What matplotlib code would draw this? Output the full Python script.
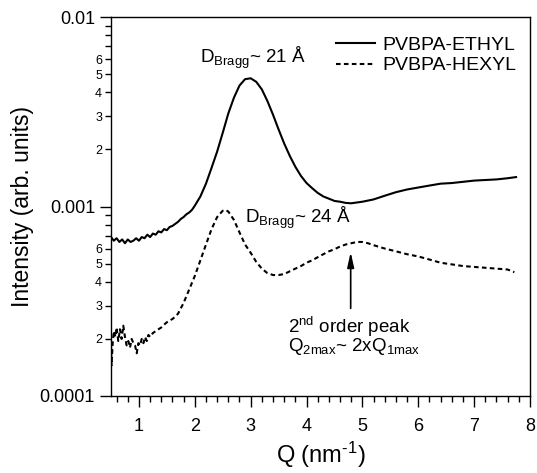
import numpy as np
import matplotlib
matplotlib.use("Agg")
import matplotlib.pyplot as plt
from matplotlib.ticker import FixedLocator, FuncFormatter

plt.rcParams["font.family"] = ["Liberation Sans", "DejaVu Sans"]
plt.rcParams["mathtext.fontset"] = "custom"
plt.rcParams["mathtext.rm"] = "Liberation Sans"
plt.rcParams["mathtext.it"] = "Liberation Sans:italic"
plt.rcParams["mathtext.default"] = "regular"

# PVBPA-ETHYL (Q in nm^-1, intensity in 1e-4 arb. units)
q_ethyl = [0.5, 0.55, 0.6, 0.65, 0.7, 0.75, 0.8, 0.85, 0.9, 0.95, 1.0, 1.05, 1.1, 1.15,
           1.2, 1.25, 1.3, 1.35, 1.4, 1.45, 1.5, 1.55, 1.6, 1.65, 1.7, 1.75, 1.8, 1.85,
           1.9, 1.95, 2.0, 2.1, 2.2, 2.3, 2.4, 2.5, 2.6, 2.7, 2.8, 2.9, 3.0, 3.1, 3.2,
           3.3, 3.4, 3.5, 3.6, 3.7, 3.8, 3.9, 4.0, 4.1, 4.2, 4.3, 4.4, 4.5, 4.6, 4.7,
           4.8, 4.9, 5.0, 5.2, 5.4, 5.6, 5.8, 6.0, 6.2, 6.4, 6.6, 6.8, 7.0, 7.2, 7.4,
           7.6, 7.75]
i_ethyl = [6.9, 6.6, 6.8, 6.5, 6.7, 6.4, 6.7, 6.5, 6.6, 6.8, 6.6, 6.9, 6.8, 7.1,
           6.9, 7.2, 7.1, 7.4, 7.3, 7.6, 7.5, 7.8, 7.9, 8.1, 8.3, 8.6, 8.8, 9.1,
           9.3, 9.6, 10.1, 11.3, 13.2, 16.0, 19.5, 24.5, 31.0, 37.5, 43.5, 47.0, 47.5, 45.5, 41.5,
           36.0, 30.5, 25.5, 21.5, 18.5, 16.2, 14.5, 13.3, 12.5, 11.8, 11.3, 11.0, 10.7, 10.6, 10.45,
           10.4, 10.5, 10.6, 10.9, 11.4, 11.9, 12.3, 12.6, 12.9, 13.2, 13.3, 13.5, 13.7, 13.8, 13.9,
           14.1, 14.3]

# PVBPA-HEXYL
q_hexyl = [0.5, 0.51, 0.53, 0.55, 0.58, 0.6, 0.63, 0.66, 0.69, 0.72, 0.75, 0.78, 0.81, 0.84,
           0.87, 0.9, 0.93, 0.96, 0.99, 1.02, 1.05, 1.08, 1.11, 1.14, 1.17, 1.2, 1.25, 1.3,
           1.35, 1.4, 1.45, 1.5, 1.55, 1.6, 1.65, 1.7, 1.8, 1.9, 2.0, 2.1, 2.2, 2.3, 2.4,
           2.5, 2.55, 2.6, 2.7, 2.8, 2.9, 3.0, 3.1, 3.2, 3.3, 3.4, 3.5, 3.6, 3.7, 3.8, 3.9,
           4.0, 4.1, 4.2, 4.3, 4.4, 4.5, 4.6, 4.7, 4.8, 4.9, 5.0, 5.1, 5.2, 5.4, 5.6, 5.8,
           6.0, 6.2, 6.4, 6.6, 6.8, 7.0, 7.2, 7.4, 7.6, 7.72]
i_hexyl = [1.85, 1.45, 1.9, 2.2, 2.05, 2.3, 1.95, 2.25, 2.0, 2.35, 2.05, 1.85, 1.95, 1.8,
           2.0, 1.9, 1.85, 1.68, 1.9, 1.85, 2.0, 1.9, 2.05, 1.95, 2.1, 2.05, 2.15, 2.2,
           2.25, 2.3, 2.38, 2.45, 2.5, 2.55, 2.62, 2.72, 3.1, 3.65, 4.3, 5.2, 6.3, 7.6, 8.8,
           9.5, 9.6, 9.4, 8.5, 7.3, 6.3, 5.7, 5.1, 4.7, 4.45, 4.35, 4.35, 4.4, 4.55, 4.7, 4.85,
           5.05, 5.2, 5.4, 5.6, 5.8, 5.95, 6.15, 6.3, 6.4, 6.5, 6.5, 6.4, 6.25, 6.0, 5.8, 5.6,
           5.45, 5.25, 5.05, 4.95, 4.85, 4.8, 4.75, 4.7, 4.65, 4.5]

y_major = [1e-4, 1e-3, 1e-2]
y_minor_labeled = [2, 3, 4, 5, 6]

i_ethyl = np.array(i_ethyl) * 1e-4
i_hexyl = np.array(i_hexyl) * 1e-4

fig = plt.figure(figsize=(5.37, 4.73), dpi=100)
ax = fig.add_axes([0.2067, 0.1628, 0.7803, 0.8012])

ax.plot(q_ethyl, i_ethyl, color="black", lw=1.5, label="PVBPA-ETHYL")
ax.plot(q_hexyl, i_hexyl, color="black", lw=1.5, linestyle=(0, (2.2, 1.6)),
        label="PVBPA-HEXYL")

ax.set_yscale("log")
ax.set_xlim(0.5, 8)
ax.set_ylim(1e-4, 1e-2)

ax.xaxis.set_major_locator(FixedLocator([1, 2, 3, 4, 5, 6, 7, 8]))
ax.xaxis.set_minor_locator(FixedLocator(np.arange(0.6, 8.01, 0.2)))
ax.yaxis.set_major_locator(FixedLocator(y_major))
ax.yaxis.set_major_formatter(FuncFormatter(lambda v, p: ("%g" % v) if v >= 1e-3 else "0.0001"))
minors = [m * d for d in [1e-4, 1e-3] for m in range(2, 10)]
ax.yaxis.set_minor_locator(FixedLocator(minors))


def minor_fmt(v, p):
    m = int(round(v / 10 ** np.floor(np.log10(v) + 1e-9)))
    return str(m) if m in y_minor_labeled else ""


ax.yaxis.set_minor_formatter(FuncFormatter(minor_fmt))

ax.tick_params(which="major", direction="out", length=8, width=1, labelsize=13,
               top=False, right=False)
ax.tick_params(which="minor", direction="out", length=4.5, width=1, top=False, right=False)
ax.tick_params(axis="y", which="minor", labelsize=9, pad=2)
ax.tick_params(axis="x", which="major", pad=8)
for s in ax.spines.values():
    s.set_linewidth(1)

ax.set_xlabel(r"Q (nm$^{\text{-1}}$)", fontsize=17, labelpad=3)
ax.set_ylabel("Intensity (arb. units)", fontsize=16.5, labelpad=4)

ax.text(2.09, 5.71e-3, r"D$_{\rm Bragg}$~ 21 Å", fontsize=13.5, ha="left", va="baseline")
ax.text(2.90, 8.18e-4, r"D$_{\rm Bragg}$~ 24 Å", fontsize=13.5, ha="left", va="baseline")
ax.text(3.66, 2.15e-4, r"2$^{\rm nd}$ order peak", fontsize=13.5, ha="left", va="baseline")
ax.text(3.66, 1.72e-4, r"Q$_{\rm 2max}$~ 2xQ$_{\rm 1max}$", fontsize=13.5, ha="left", va="baseline")

ax.annotate("", xy=(4.79, 5.75e-4), xytext=(4.79, 2.9e-4),
            arrowprops=dict(arrowstyle="-|>,head_length=0.9,head_width=0.2",
                            color="black", lw=1.2, shrinkA=0, shrinkB=0))

ax.legend(loc="upper right", frameon=False, fontsize=14, handlelength=2.0,
          handletextpad=0.4, labelspacing=0.15, borderaxespad=0.3,
          bbox_to_anchor=(1.0, 0.985))

fig.savefig("out.png", dpi=100)
